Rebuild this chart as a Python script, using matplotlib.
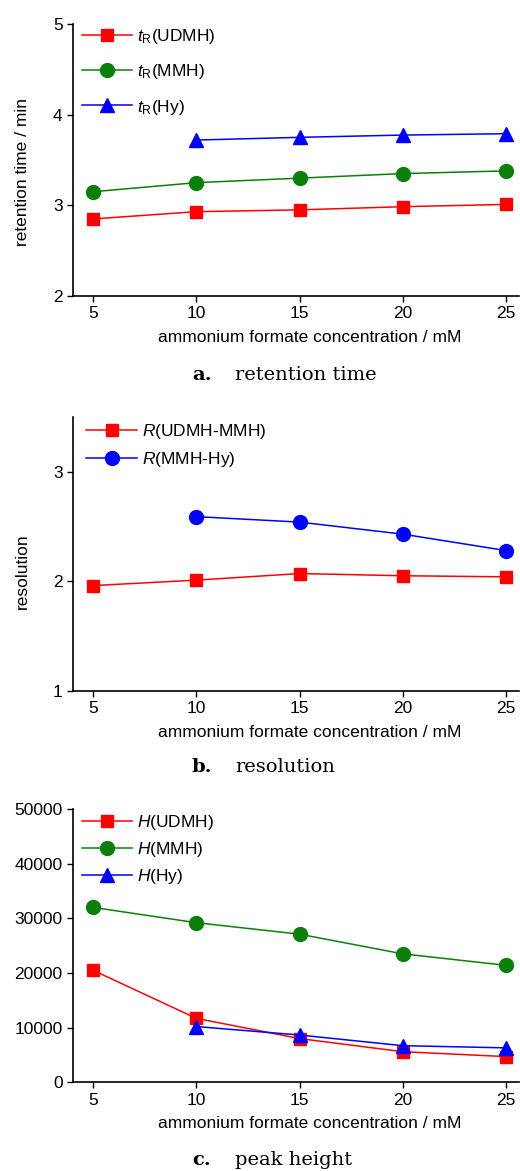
import matplotlib
matplotlib.use("Agg")
import matplotlib.pyplot as plt

plt.rcParams['font.family'] = ['Liberation Sans', 'DejaVu Sans']
plt.rcParams['mathtext.fontset'] = 'custom'
plt.rcParams['mathtext.rm'] = 'Liberation Sans'
plt.rcParams['mathtext.it'] = 'Liberation Sans:italic'
plt.rcParams['mathtext.bf'] = 'Liberation Sans:bold'

# ---------------- data ----------------
conc = [5, 10, 15, 20, 25]
conc_hy = [10, 15, 20, 25]

tR_udmh = [2.85, 2.93, 2.95, 2.985, 3.01]
tR_mmh = [3.15, 3.25, 3.30, 3.35, 3.38]
tR_hy = [3.72, 3.75, 3.775, 3.79]

R_udmh_mmh = [1.96, 2.01, 2.07, 2.05, 2.04]
R_mmh_hy = [2.59, 2.54, 2.43, 2.28]

H_udmh = [20500, 11700, 8000, 5600, 4700]
H_mmh = [32000, 29200, 27100, 23500, 21400]
H_hy = [10200, 8650, 6700, 6300]

xticks = [5, 10, 15, 20, 25]
xlabel = "ammonium formate concentration / mM"
captions = [("a.", "retention time"), ("b.", "resolution"), ("c.", "peak height")]

RED = '#ff0000'
GREEN = '#0a800a'
BLUE = '#0000ff'

W, H = 520, 1171
fig = plt.figure(figsize=(W / 100, H / 100), dpi=100)

def axes_px(left, top, right, bottom):
    return fig.add_axes([left / W, 1 - bottom / H, (right - left) / W, (bottom - top) / H])

def style(ax, ylim, yticks):
    ax.set_xlim(4.03, 25.63)
    ax.set_ylim(*ylim)
    ax.set_xticks(xticks)
    ax.set_yticks(yticks)
    for s in ['top', 'right']:
        ax.spines[s].set_visible(False)
    for s in ['left', 'bottom']:
        ax.spines[s].set_linewidth(1.2)
    ax.tick_params(direction='out', length=4.5, width=1.0, labelsize=12.5, pad=3)
    ax.set_xlabel(xlabel, fontsize=12.5, labelpad=0)
    ax.xaxis.set_label_coords(0.53, -0.124)

lw = 1.1

# ---------- panel a ----------
ax1 = axes_px(73, 24, 519, 296)
ax1.plot(conc, tR_udmh, '-s', color=RED, lw=lw, ms=9, label=r'$t_\mathrm{R}$(UDMH)', clip_on=False)
ax1.plot(conc, tR_mmh, '-o', color=GREEN, lw=lw, ms=10, label=r'$t_\mathrm{R}$(MMH)', clip_on=False)
ax1.plot(conc_hy, tR_hy, '-^', color=BLUE, lw=lw, ms=10.5, label=r'$t_\mathrm{R}$(Hy)', clip_on=False)
style(ax1, (2, 5), [2, 3, 4, 5])
ax1.set_ylabel("retention time / min", fontsize=12.5)
ax1.yaxis.set_label_coords(-0.097, 0.456)
ax1.legend(loc='upper left', bbox_to_anchor=(0.02, 0.988), frameon=False, fontsize=12.5,
           handlelength=2.9, handletextpad=0.25, borderaxespad=0, borderpad=0, labelspacing=0.93)

# ---------- panel b ----------
ax2 = axes_px(73, 417, 519, 690.7)
ax2.plot(conc, R_udmh_mmh, '-s', color=RED, lw=lw, ms=9, label=r'$\it{R}$(UDMH-MMH)', clip_on=False)
ax2.plot(conc_hy, R_mmh_hy, '-o', color=BLUE, lw=lw, ms=10, label=r'$\it{R}$(MMH-Hy)', clip_on=False)
style(ax2, (1, 3.5), [1, 2, 3])
ax2.set_ylabel("resolution", fontsize=12.5)
ax2.yaxis.set_label_coords(-0.097, 0.437)
ax2.legend(loc='upper left', bbox_to_anchor=(0.03, 0.982), frameon=False, fontsize=12.5,
           handlelength=2.9, handletextpad=0.3, borderaxespad=0, borderpad=0, labelspacing=0.5)

# ---------- panel c ----------
ax3 = axes_px(73, 809, 519, 1082.3)
ax3.plot(conc, H_udmh, '-s', color=RED, lw=lw, ms=9, label=r'$\it{H}$(UDMH)', clip_on=False)
ax3.plot(conc, H_mmh, '-o', color=GREEN, lw=lw, ms=10, label=r'$\it{H}$(MMH)', clip_on=False)
ax3.plot(conc_hy, H_hy, '-^', color=BLUE, lw=lw, ms=10.5, label=r'$\it{H}$(Hy)', clip_on=False)
style(ax3, (0, 50000), [0, 10000, 20000, 30000, 40000, 50000])
ax3.legend(loc='upper left', bbox_to_anchor=(0.02, 0.985), frameon=False, fontsize=12.5,
           handlelength=2.9, handletextpad=0.25, borderaxespad=0, borderpad=0, labelspacing=0.45)

# ---------- captions ----------
for (lab, txt), yc in zip(captions, [375, 767, 1160]):
    fig.text(192 / W, 1 - yc / H, lab, fontsize=14, fontweight='bold',
             family=['DejaVu Serif'], ha='left', va='center')
    fig.text(235 / W, 1 - yc / H, txt, fontsize=14, family=['DejaVu Serif'],
             ha='left', va='center')

fig.savefig("out.png", dpi=100)
